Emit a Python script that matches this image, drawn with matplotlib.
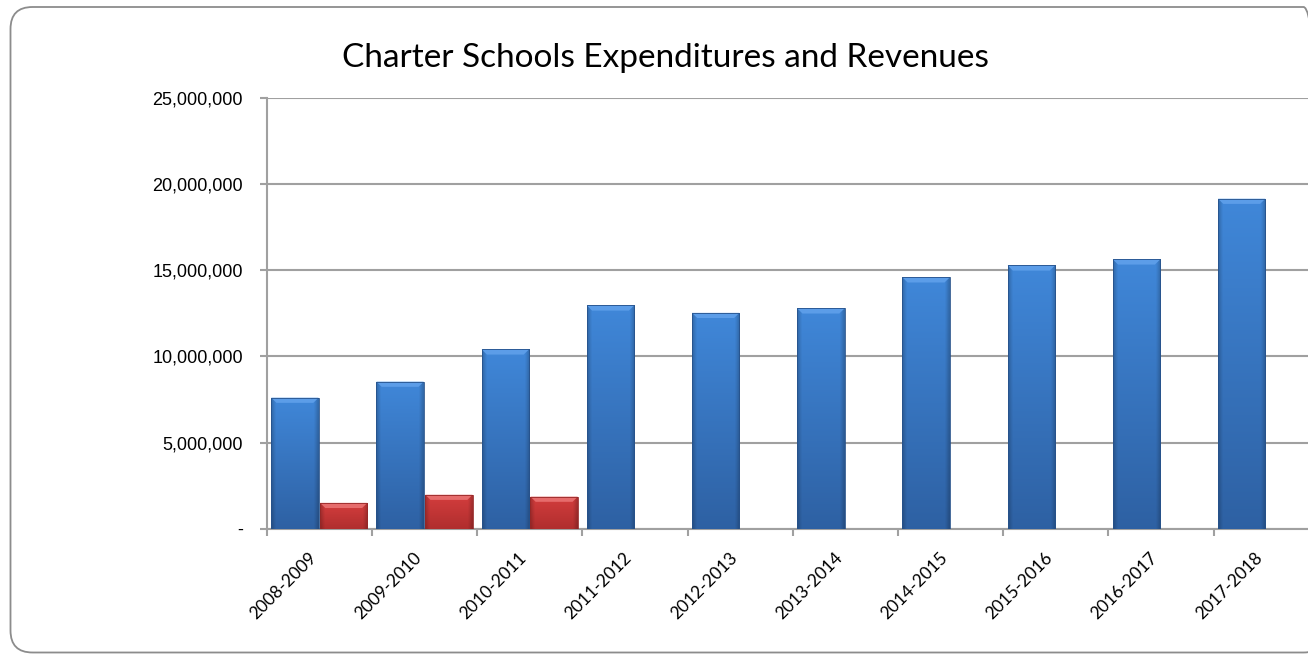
import numpy as np
import matplotlib.pyplot as plt
from matplotlib.patches import FancyBboxPatch, Polygon
from matplotlib.ticker import FuncFormatter, FixedLocator
from matplotlib.transforms import IdentityTransform

years = ['2008-2009', '2009-2010', '2010-2011', '2011-2012', '2012-2013',
         '2013-2014', '2014-2015', '2015-2016', '2016-2017', '2017-2018']
expenditures = [7600000, 8530000, 10400000, 12950000, 12520000,
                12780000, 14580000, 15270000, 15620000, 19140000]
revenues = [1500000, 1970000, 1860000]

W, H, DPI = 1308, 655, 100
fig = plt.figure(figsize=(W / DPI, H / DPI), dpi=DPI)

# rounded frame round the whole chart (runs off the right edge)
frame = FancyBboxPatch((10.5, 2.5), 1315, 645.5,
                       boxstyle='round,pad=0,rounding_size=22',
                       transform=IdentityTransform(), fill=False,
                       edgecolor='#8c8c8c', linewidth=1.3)
fig.patches.append(frame)

ax = fig.add_axes([266.7 / W, 126.3 / H, 1052 / W, 431 / H])

grid_col = '#a0a0a0'


def shaded_bar(ax, x, h, width, top_col, bot_col, bevel_col):
    """bar with vertical gradient, dark sides and a chamfered top edge"""
    rect = ax.bar(x, h, width, color='none', edgecolor='none', zorder=3)[0]
    x0, x1 = x - width / 2, x + width / 2
    n = 64
    t = np.linspace(0, 1, n)[:, None, None]
    grad = bot_col + (top_col - bot_col) * t
    u = np.linspace(-1, 1, 32)
    side = 1 - 0.2 * np.clip((np.abs(u) - 0.82) / 0.18, 0, 1)
    img = grad * side[None, :, None]
    im = ax.imshow(np.clip(img, 0, 1), extent=(x0, x1, 0, h), origin='lower',
                   aspect='auto', interpolation='bilinear', zorder=3)
    im.set_clip_path(rect)
    dx = 0.05
    dy = 0.3e6
    ax.add_patch(Polygon([(x0, h), (x1, h), (x1 - dx, h - dy), (x0 + dx, h - dy)],
                         closed=True, facecolor=bevel_col, edgecolor='none',
                         zorder=4))
    # darker outline
    ax.add_patch(Polygon([(x0, 0), (x0, h), (x1, h), (x1, 0)], closed=True,
                         fill=False, edgecolor=bot_col * 0.85, linewidth=0.6,
                         zorder=4))


blue_top = np.array([0.25, 0.53, 0.85])
blue_bot = np.array([0.18, 0.38, 0.64])
red_top = np.array([0.83, 0.24, 0.24])
red_bot = np.array([0.69, 0.18, 0.18])

xpos = np.arange(len(years))
bw = 0.45
off = 0.232
for i, v in enumerate(expenditures):
    shaded_bar(ax, xpos[i] - off, v, bw, blue_top, blue_bot, '#5c9de8')
for i, v in enumerate(revenues):
    shaded_bar(ax, xpos[i] + off, v, bw, red_top, red_bot, '#e66c6c')

ax.set_xlim(-0.5, len(years) - 0.5)
ax.set_ylim(0, 25000000)
ax.set_yticks(np.arange(0, 25000001, 5000000))
ax.yaxis.set_major_formatter(FuncFormatter(lambda v, p: '-' if v == 0 else f'{int(v):,}'))
ax.grid(axis='y', color=grid_col, linewidth=1.5, zorder=0)
ax.set_axisbelow(True)

ax.set_xticks(xpos)
ax.set_xticklabels(years, rotation=45, ha='right', va='top',
                   fontsize=12.5, family='Lato')
ax.xaxis.set_minor_locator(FixedLocator(np.arange(-0.5, len(years), 1.0)))
ax.tick_params(axis='x', which='major', length=0, pad=15)
ax.tick_params(axis='x', which='minor', length=5, width=1.5, color=grid_col)
ax.tick_params(axis='y', length=5, width=1.5, color=grid_col, pad=12,
               labelsize=13)
for lab in ax.get_yticklabels():
    lab.set_family('Liberation Sans')

for s in ['top', 'right']:
    ax.spines[s].set_visible(False)
for s in ['left', 'bottom']:
    ax.spines[s].set_color(grid_col)
    ax.spines[s].set_linewidth(1.5)

fig.text(665 / W, 1 - 66.7 / H, 'Charter Schools Expenditures and Revenues',
         ha='center', va='baseline', fontsize=24, family='Lato')

fig.savefig('out.png', dpi=DPI)
